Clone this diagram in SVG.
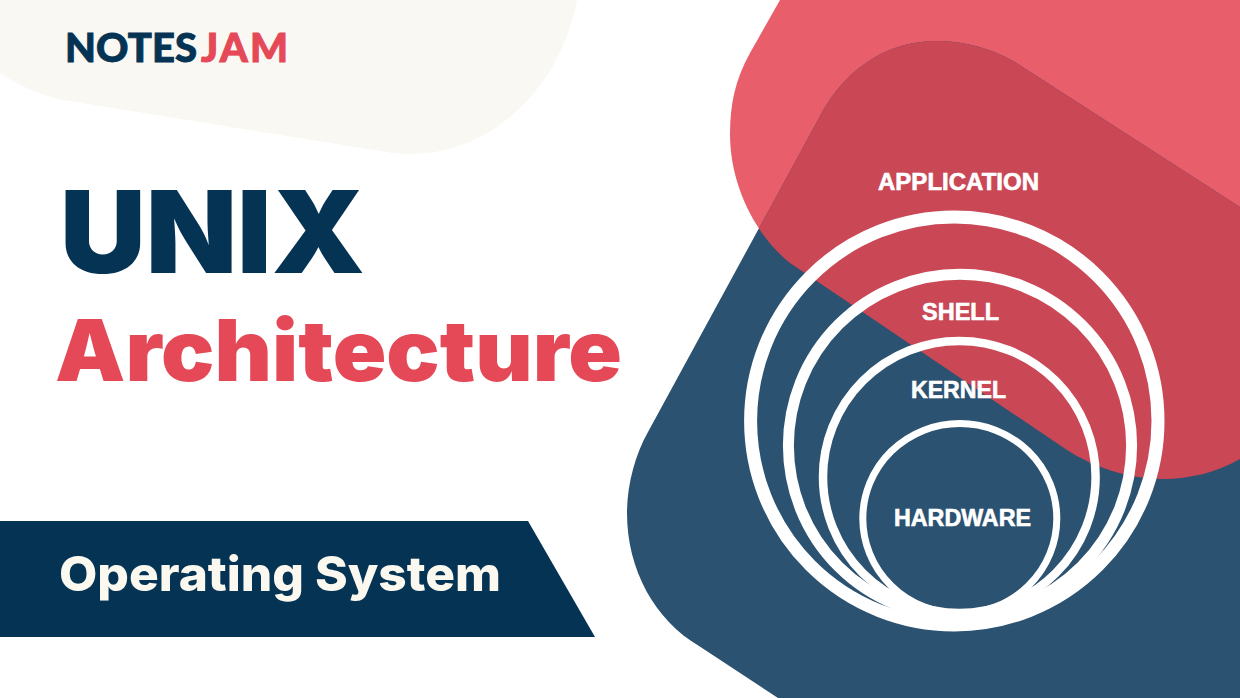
<svg xmlns="http://www.w3.org/2000/svg" width="1240" height="698" viewBox="0 0 1240 698">
<style>
.t{font-family:"Inter","Liberation Sans",sans-serif;font-weight:900}
.n{font-family:"Lato","Liberation Sans",sans-serif;font-weight:900;font-size:40px;stroke-width:.9}
.l{font-family:"Liberation Sans",Arial,sans-serif;font-weight:700;font-size:23px;fill:#fff;stroke:#fff;stroke-width:.6}
.r{fill:none;stroke:#fff}
</style>
<defs>
<path id="red" d="M780 0L750 53C735 80 730 105 730 134C730 185 755 235 790 263L1067 450C1095 468 1130 479 1163 479C1190 479 1218 472 1240 459L1240 0Z"/>
<path id="blue" d="M1240 207L1015 62C990 48 965 41 936 41C890 41 850 66 825 107L648 432C635 455 627 485 627 513C627 570 655 620 699 646L778 698L1240 698Z"/>
<clipPath id="redclip"><use href="#red"/></clipPath>
</defs>
<rect width="1240" height="698" fill="#fff"/>
<path id="cream" fill="#F9F8F3" d="M0 0L577 0C560 90 490 154 411 154C400 154 390 153 380 151L63 100C40 95 20 86 0 73Z"/>
<use href="#red" fill="#E85F6B"/>
<use href="#blue" fill="#2B5270"/>
<use href="#blue" fill="#CA4756" clip-path="url(#redclip)"/>
<text class="n" x="65" y="62" textLength="132" lengthAdjust="spacing" fill="#053354" stroke="#053354">NOTES</text>
<text class="n" x="201" y="62" textLength="87" lengthAdjust="spacing" fill="#E54857" stroke="#E54857">JAM</text>
<text class="t" x="60" y="273" font-size="114" textLength="305" lengthAdjust="spacingAndGlyphs" fill="#053354">UNIX</text>
<text class="t" x="55" y="381" font-size="85" textLength="567" lengthAdjust="spacingAndGlyphs" fill="#E54857">Architecture</text>
<polygon id="banner" points="0,521 528,521 595,637 0,637" fill="#053354"/>
<text class="t" x="59" y="591" font-size="48" style="font-weight:800" textLength="442" lengthAdjust="spacingAndGlyphs" fill="#FBF8F0">Operating System</text>
<g id="connectors"></g>
<g id="application"><ellipse class="r" cx="954.300" cy="421" rx="203.700" ry="204" stroke-width="13"/><text class="l" x="878" y="190" textLength="161" lengthAdjust="spacingAndGlyphs">APPLICATION</text></g>
<g id="shell"><ellipse class="r" cx="960" cy="445.600" rx="171.600" ry="171.300" stroke-width="11"/><text class="l" x="922" y="319.500" textLength="77" lengthAdjust="spacingAndGlyphs">SHELL</text></g>
<g id="kernel"><ellipse class="r" cx="959.300" cy="477" rx="136.300" ry="136" stroke-width="8.500"/><text class="l" x="911" y="397.500" textLength="95" lengthAdjust="spacingAndGlyphs">KERNEL</text></g>
<g id="hardware"><ellipse class="r" cx="959.800" cy="518.500" rx="97" ry="95" stroke-width="7"/><text class="l" x="894" y="526" textLength="137" lengthAdjust="spacingAndGlyphs">HARDWARE</text></g>
</svg>
